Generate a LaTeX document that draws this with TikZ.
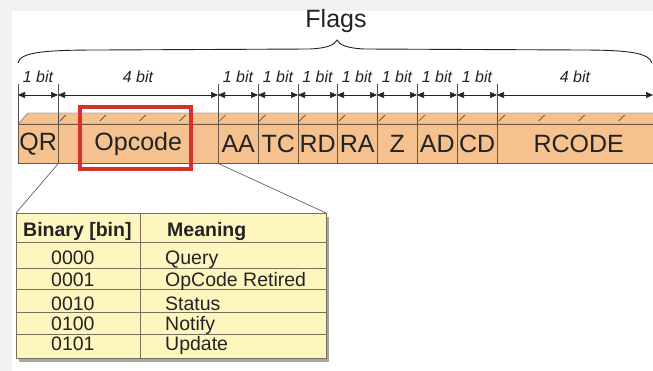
\documentclass[tikz,border=0pt]{standalone}
\usepackage{fontspec}
\setmainfont{Liberation Sans}
\usetikzlibrary{arrows.meta,positioning,calc,shadows}
\definecolor{barfill}{HTML}{F5C18F}
\definecolor{barline}{HTML}{6B5747}
\definecolor{hired}{HTML}{D6322B}
\definecolor{tabfill}{HTML}{FEF6BF}
\definecolor{tabline}{HTML}{77705A}
\definecolor{inkgray}{HTML}{232323}
\definecolor{pagegray}{HTML}{F1F1F1}

\begin{document}
\begin{tikzpicture}[x=1pt, y=-1pt,
  every node/.style={inner sep=0pt, text=inkgray},
  field/.style={draw=barline, fill=barfill, minimum height=39pt, anchor=north west,
                font=\fontsize{25}{25}\selectfont},
  bitlbl/.style={font=\fontsize{16}{16}\selectfont\itshape},
  dim/.style={draw=inkgray, line width=0.6pt,
              {Triangle[length=7pt,width=6pt]}-{Triangle[length=7pt,width=6pt]}},
  tick/.style={draw=inkgray!80, line width=0.6pt},
  cell/.style={anchor=base west, font=\fontsize{19.5}{19.5}\selectfont},
  head/.style={anchor=base west, font=\fontsize{19.5}{19.5}\selectfont\bfseries},
  zoomline/.style={draw=inkgray!80, line width=0.6pt},
]
% Page
\fill[pagegray] (0,0) rectangle (653,371);
\fill[white] (12,11) rectangle (653,371);
\useasboundingbox (0,0) rectangle (653,371);

% Title and brace
\node[font=\fontsize{25}{25}\selectfont] (title) at (336,21) {Flags};
\draw[inkgray, line width=0.9pt] (18,63) .. controls (20,52) and (45,50) .. (100,50)
  -- (310,49) .. controls (328,48) and (334,45) .. (337,40)
  .. controls (340,45) and (346,48) .. (364,49) -- (580,50)
  .. controls (630,50) and (649,53) .. (652,63);

% Top face of the bar
\filldraw[fill=barfill, draw=barline] (18,124) -- (28,113) -- (660,113) -- (660,124) -- cycle;
\foreach \i in {1,...,15}
  \draw[barline!80!black, line width=0.7pt] ({18+39.9*\i+2},121) -- ({18+39.9*\i+8},115);

% Fields
\foreach \nm/\lbl/\x/\w in {qr/QR/18/40, opcode/Opcode/58/160, aa/AA/218/40,
    tc/TC/258/40, rd/RD/298/39, ra/RA/337/40, z/Z/377/40, ad/AD/417/40,
    cd/CD/457/40, rcode/RCODE/497/163}
  \node[field, minimum width=\w pt] (\nm) at (\x,124) {\lbl};

% Dimension ticks
\foreach \nm/\x in {k0/18, k1/58, k2/218, k3/258, k4/298, k5/337, k6/377,
    k7/417, k8/457, k9/497} {
  \coordinate (\nm) at (\x,95);
  \draw[tick] (\x,84) -- (\x,124);
}
\coordinate (k10) at (653,95);

% Dimension arrows
\foreach \a/\b/\lbl in {k0/k1/1 bit, k1/k2/4 bit, k2/k3/1 bit, k3/k4/1 bit,
    k4/k5/1 bit, k5/k6/1 bit, k6/k7/1 bit, k7/k8/1 bit, k8/k9/1 bit, k9/k10/4 bit}
  \draw[dim] (\a) -- (\b) node[bitlbl, midway, above=12pt] {\lbl};

% Highlight
\draw[hired, line width=4pt] (80,107) rectangle (191,169);

% Zoom lines
\draw[zoomline] (qr.south east) -- (16,213) coordinate (tl);
\draw[zoomline] (aa.south west) -- (326,213) coordinate (tr);

% Table
\node[draw=tabline, fill=tabfill, anchor=north west, minimum width=310pt,
      minimum height=145pt,
      drop shadow={shadow xshift=3pt, shadow yshift=-4pt, opacity=0.35, fill=black}]
  (tbl) at (16,213) {};
\foreach \y in {242,268,289,312,334}
  \draw[tabline] (16,\y) -- (326,\y);
\draw[tabline] (140,213) -- (140,358);

\node[head] (hbin) at (23,237) {Binary [bin]};
\node[head] (hmean) at (167,237) {Meaning};
\foreach \nm/\bin/\mean/\y in {ra/0000/Query/265, rb/0001/OpCode Retired/287,
    rc/0010/Status/310, rd/0100/Notify/330, re/0101/Update/350} {
  \node[cell] (\nm bin) at (51,\y) {\bin};
  \node[cell] (\nm mean) at (165,\y) {\mean};
}
\end{tikzpicture}
\end{document}
